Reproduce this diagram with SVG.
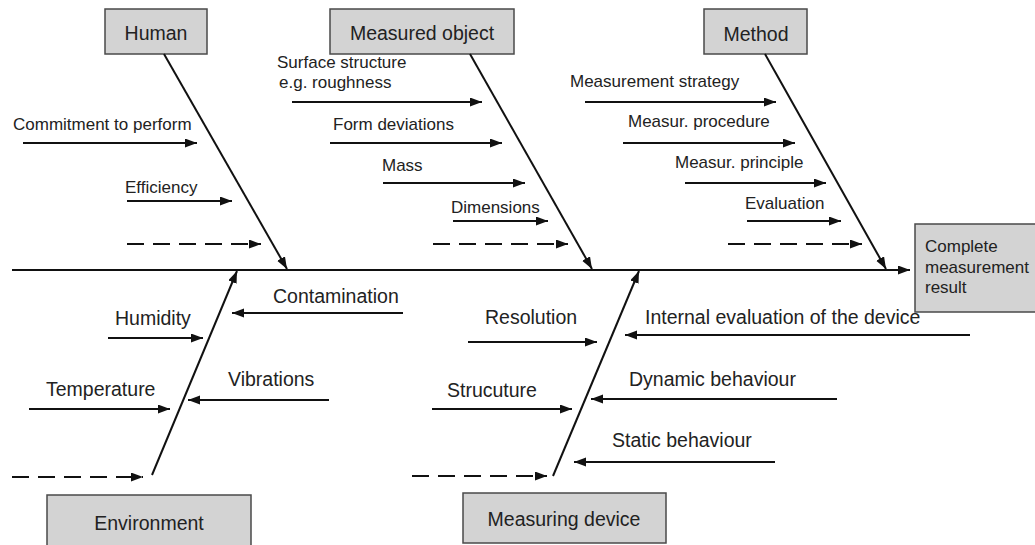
<svg xmlns="http://www.w3.org/2000/svg" width="1035" height="545" viewBox="0 0 1035 545">
  <defs>
    <marker id="arrow" markerUnits="userSpaceOnUse" markerWidth="13" markerHeight="10" refX="12" refY="4.5" orient="auto">
      <path d="M0,0 L12,4.5 L0,9 z" fill="#111"/>
    </marker>
    <style>
      .box { fill: #d3d3d3; stroke: #4a4a4a; stroke-width: 1.5; }
      .bone { stroke: #111; stroke-width: 2; fill: none; marker-end: url(#arrow); }
      .dash { stroke-dasharray: 17 9; }
      .lbl { font-family: "Liberation Sans", Arial, sans-serif; font-size: 17px; fill: #222; }
      .big { font-family: "Liberation Sans", Arial, sans-serif; font-size: 19.5px; fill: #222; }
      .mid { text-anchor: middle; }
    </style>
  </defs>
  <rect width="1035" height="545" fill="#fff"/>

  <!-- category boxes -->
  <g id="human">
    <rect class="box" x="105" y="9" width="102" height="45"/>
    <text class="big mid" x="156" y="40">Human</text>
  </g>
  <g id="measured-object">
    <rect class="box" x="330" y="9" width="184" height="45"/>
    <text class="big mid" x="422" y="40">Measured object</text>
  </g>
  <g id="method">
    <rect class="box" x="704" y="9" width="103" height="45"/>
    <text class="big mid" x="756" y="41">Method</text>
  </g>
  <g id="result">
    <rect class="box" x="915" y="224" width="130" height="88"/>
    <text class="lbl" x="925" y="252">Complete</text>
    <text class="lbl" x="925" y="273">measurement</text>
    <text class="lbl" x="925" y="293">result</text>
  </g>
  <g id="environment">
    <rect class="box" x="47" y="495" width="204" height="60"/>
    <text class="big mid" x="149" y="530">Environment</text>
  </g>
  <g id="measuring-device">
    <rect class="box" x="463" y="493" width="203" height="50"/>
    <text class="big mid" x="564" y="526">Measuring device</text>
  </g>

  <!-- cause labels -->
  <g id="labels">
    <text class="lbl" x="13" y="130">Commitment to perform</text>
    <text class="lbl" x="125" y="193">Efficiency</text>
    <text class="lbl" x="277" y="68">Surface structure</text>
    <text class="lbl" x="279" y="88">e.g. roughness</text>
    <text class="lbl" x="333" y="130">Form deviations</text>
    <text class="lbl" x="382" y="171">Mass</text>
    <text class="lbl" x="451" y="213">Dimensions</text>
    <text class="lbl" x="570" y="87">Measurement strategy</text>
    <text class="lbl" x="628" y="127">Measur. procedure</text>
    <text class="lbl" x="675" y="168">Measur. principle</text>
    <text class="lbl" x="745" y="209">Evaluation</text>

    <text class="big" x="273" y="303">Contamination</text>
    <text class="big" x="115" y="325">Humidity</text>
    <text class="big" x="228" y="386">Vibrations</text>
    <text class="big" x="46" y="396">Temperature</text>
    <text class="big" x="485" y="324">Resolution</text>
    <text class="big" x="645" y="324">Internal evaluation of the device</text>
    <text class="big" x="447" y="397">Strucuture</text>
    <text class="big" x="629" y="386">Dynamic behaviour</text>
    <text class="big" x="612" y="447">Static behaviour</text>
  </g>

  <!-- connectors -->
  <g id="connectors">
    <!-- spine -->
    <line class="bone" x1="12" y1="270" x2="910" y2="270"/>

    <!-- main bones -->
    <line class="bone" x1="164" y1="54" x2="287" y2="269"/>
    <line class="bone" x1="470" y1="54" x2="592" y2="269"/>
    <line class="bone" x1="765" y1="54" x2="886" y2="269"/>
    <line class="bone" x1="152" y1="475" x2="237" y2="271"/>
    <line class="bone" x1="553" y1="476" x2="639" y2="271"/>

    <!-- Human causes -->
    <line class="bone" x1="23" y1="143" x2="197" y2="143"/>
    <line class="bone" x1="127" y1="201" x2="232" y2="201"/>
    <line class="bone dash" x1="127" y1="244" x2="261" y2="244"/>

    <!-- Measured object causes -->
    <line class="bone" x1="292" y1="102" x2="482" y2="102"/>
    <line class="bone" x1="330" y1="143" x2="502" y2="143"/>
    <line class="bone" x1="383" y1="183" x2="525" y2="183"/>
    <line class="bone" x1="453" y1="221" x2="548" y2="221"/>
    <line class="bone dash" x1="433" y1="244" x2="568" y2="244"/>

    <!-- Method causes -->
    <line class="bone" x1="585" y1="102" x2="776" y2="102"/>
    <line class="bone" x1="623" y1="143" x2="795" y2="143"/>
    <line class="bone" x1="685" y1="183" x2="826" y2="183"/>
    <line class="bone" x1="747" y1="221" x2="841" y2="221"/>
    <line class="bone dash" x1="728" y1="244" x2="862" y2="244"/>

    <!-- Environment causes -->
    <line class="bone" x1="403" y1="313" x2="232" y2="313"/>
    <line class="bone" x1="108" y1="338" x2="203" y2="338"/>
    <line class="bone" x1="329" y1="400" x2="188" y2="400"/>
    <line class="bone" x1="29" y1="409" x2="170" y2="409"/>
    <line class="bone dash" x1="12" y1="477" x2="143" y2="477"/>

    <!-- Measuring device causes -->
    <line class="bone" x1="468" y1="342" x2="597" y2="342"/>
    <line class="bone" x1="970" y1="335" x2="625" y2="335"/>
    <line class="bone" x1="432" y1="409" x2="572" y2="409"/>
    <line class="bone" x1="837" y1="399" x2="591" y2="399"/>
    <line class="bone" x1="775" y1="462" x2="574" y2="462"/>
    <line class="bone dash" x1="412" y1="476" x2="547" y2="476"/>
  </g>
</svg>
